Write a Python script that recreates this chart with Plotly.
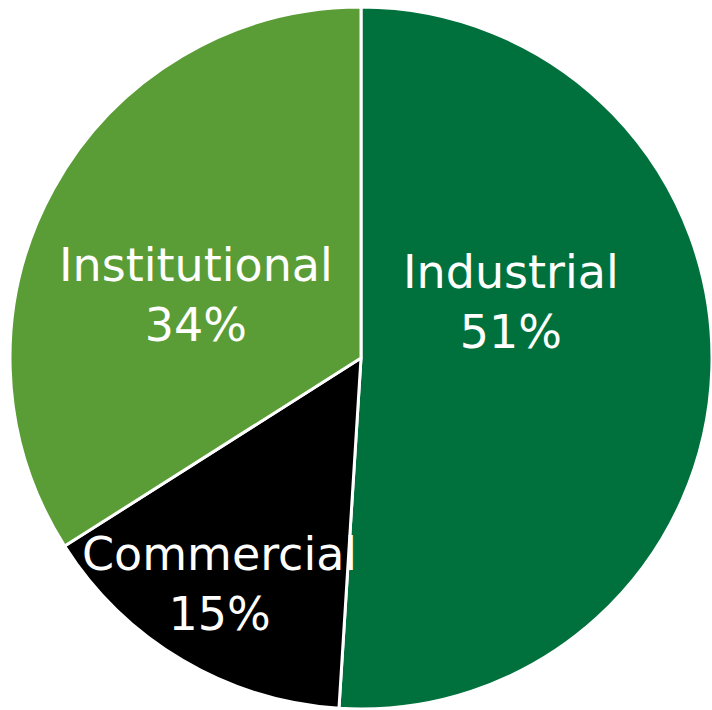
import plotly.graph_objects as go

labels = ["Industrial", "Commercial", "Institutional"]
values = [51, 15, 34]
colors = ["#00713D", "#000000", "#5A9D36"]
# label anchor positions (pixel centres of the text blocks)
label_px = [(511, 302), (219, 584), (196, 295)]

W, H = 712, 710
total = sum(values)

fig = go.Figure(go.Pie(
    labels=labels,
    values=values,
    sort=False,
    direction="clockwise",
    rotation=0,
    marker=dict(colors=colors, line=dict(color="white", width=3)),
    textinfo="none",
    hoverinfo="label+percent",
    domain=dict(x=[10 / W, 1], y=[0, 1 - 6 / H]),
    showlegend=False,
))

for lab, val, (px, py) in zip(labels, values, label_px):
    fig.add_annotation(
        x=px / W, y=1 - py / H, xref="paper", yref="paper",
        text=f"{lab}<br>{round(100 * val / total)}%",
        showarrow=False, xanchor="center", yanchor="middle",
        font=dict(family="DejaVu Sans", size=46, color="white"),
    )

fig.update_layout(
    width=W, height=H,
    margin=dict(l=0, r=0, t=0, b=0),
    paper_bgcolor="white",
    plot_bgcolor="white",
)

fig.write_html(
    "out.html",
    config={"displayModeBar": False},
    post_script="document.body.style.margin='0';document.body.style.overflow='hidden';",
)
